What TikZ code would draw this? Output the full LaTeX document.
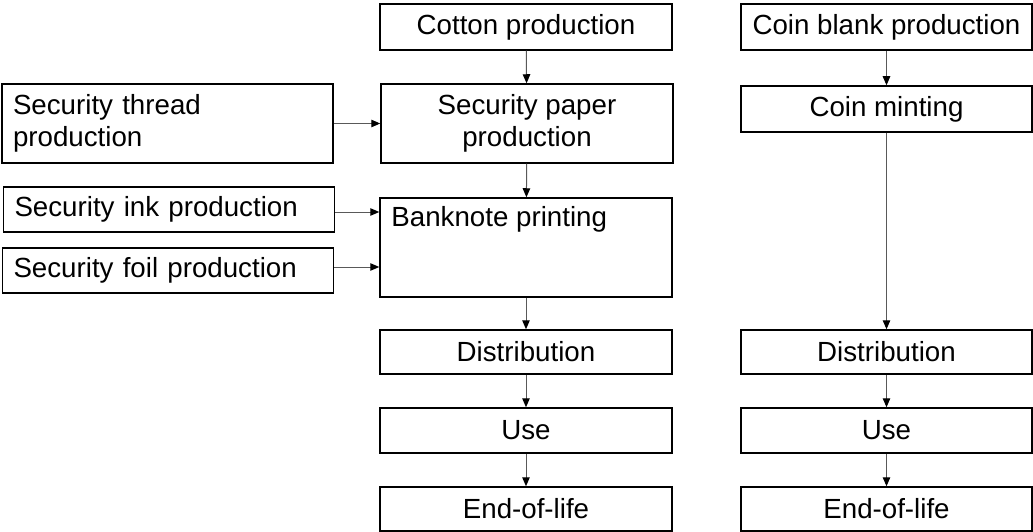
\documentclass[tikz,border=0pt]{standalone}
\usepackage{fontspec}
\setmainfont{Liberation Sans}
\usetikzlibrary{arrows.meta,positioning}
\begin{document}
\begin{tikzpicture}
		[x=1pt,y=-1pt,
		box/.style={draw,line width=1.5pt,inner sep=0pt,align=center,
			font=\fontsize{27.7}{32}\selectfont},
		lbox/.style={box,align=left,text width=309pt,inner xsep=11pt},
		flow/.style={draw=black!65,line width=1pt,
			-{Triangle[length=9pt,width=7.5pt,fill=black,color=black]}}]
		\useasboundingbox (0,0) rectangle (1033,532);
		% banknote chain
		\node[box,minimum width=292pt,minimum height=46pt] (cotton) at (526,27) {Cotton production};
		\node[box,minimum width=292pt,minimum height=79pt] (paper) at (527,123.5) {Security paper\\production};
		\node[box,minimum width=292pt,minimum height=99pt] (print) at (526,247.5) {};
		\node[anchor=north west,inner sep=0pt,font=\fontsize{27.7}{32}\selectfont] (printtxt)
			at ([xshift=12pt,yshift=-9pt]print.north west) {Banknote printing};
		\node[box,minimum width=292pt,minimum height=44pt] (distA) at (526,352) {Distribution};
		\node[box,minimum width=292pt,minimum height=45pt] (useA) at (526,430.5) {Use};
		\node[box,minimum width=292pt,minimum height=44pt] (endA) at (526,509) {End-of-life};
		% suppliers
		\node[lbox,minimum height=79pt] (thread) at (167.5,123.5) {Security thread\\production};
		\node[lbox,minimum height=45pt] (ink) at (169,209.5) {Security ink production};
		\node[lbox,minimum height=45pt] (foil) at (168,270.5) {Security foil production};
		% coin chain
		\node[box,minimum width=291pt,minimum height=46pt] (blank) at (886.5,27) {Coin blank production};
		\node[box,minimum width=291pt,minimum height=46pt] (mint) at (886.5,109) {Coin minting};
		\node[box,minimum width=291pt,minimum height=44pt] (distB) at (886.5,352) {Distribution};
		\node[box,minimum width=291pt,minimum height=45pt] (useB) at (886.5,430.5) {Use};
		\node[box,minimum width=291pt,minimum height=44pt] (endB) at (886.5,509) {End-of-life};

		\draw[flow] (cotton) -- (paper);
		\draw[flow] (paper) -- (print);
		\draw[flow] (print) -- (distA);
		\draw[flow] (distA) -- (useA);
		\draw[flow] (useA) -- (endA);
		\draw[flow] (thread) -- (paper);
		\draw[flow] ([yshift=-2.5pt]ink.east) -- ([yshift=-2.5pt]ink.east -| print.west);
		\draw[flow] ([yshift=3.5pt]foil.east) -- ([yshift=3.5pt]foil.east -| print.west);
		\draw[flow] (blank) -- (mint);
		\draw[flow] (mint) -- (distB);
		\draw[flow] (distB) -- (useB);
		\draw[flow] (useB) -- (endB);
	\end{tikzpicture}
\end{document}
